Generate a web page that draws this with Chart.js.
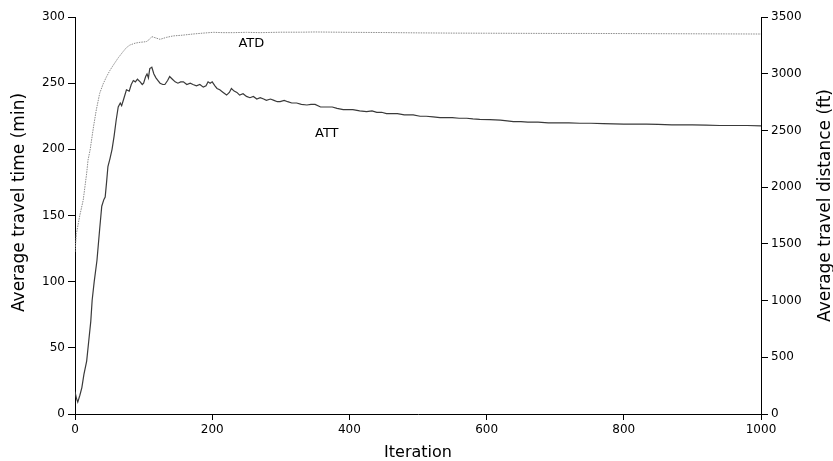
<!DOCTYPE html>
<html>
<head>
<meta charset="utf-8">
<script src="https://cdn.jsdelivr.net/npm/chart.js@4/dist/chart.umd.min.js"></script>
<style>
  html, body { margin: 0; padding: 0; background: #fff; }
  #wrap { width: 833px; height: 461px; position: relative; }
</style>
</head>
<body>
<div id="wrap"><canvas id="c" width="833" height="461"></canvas></div>
<script>
// ---- data ----
const attIter = [0, 2, 4, 7, 10, 13, 17, 20, 23, 25, 28, 32, 36, 39, 42, 44, 46, 48, 51, 54, 57, 60, 63, 66, 68, 71, 75, 79, 82, 85, 88, 91, 95, 98, 100, 103, 105, 107, 109, 112, 115, 118, 121, 124, 128, 131, 135, 138, 142, 146, 150, 154, 158, 163, 168, 172, 177, 182, 187, 191, 194, 197, 200, 204, 207, 211, 216, 221, 225, 228, 232, 236, 240, 245, 250, 255, 260, 265, 270, 275, 279, 285, 290, 295, 299, 305, 310, 316, 323, 330, 338, 344, 350, 358, 367, 375, 382, 391, 398, 405, 415, 425, 433, 440, 447, 454, 462, 470, 480, 493, 503, 512, 522, 532, 542, 550, 560, 571, 580, 590, 605, 620, 630, 639, 650, 660, 675, 690, 705, 720, 736, 752, 770, 785, 800, 815, 833, 850, 870, 885, 900, 920, 940, 960, 980, 1000];
const attVal  = [17, 12, 9, 14, 20, 30, 40, 55, 70, 86, 100, 116, 140, 157, 162, 164, 175, 187, 193, 200, 210, 222, 232, 235, 233, 238, 245, 244, 249, 252, 251, 253, 251, 249, 250, 255, 257, 254, 261, 262, 257, 254, 252, 250, 249, 249, 252, 255, 253, 251, 250, 251, 251, 249, 250, 249, 248, 249, 247, 248, 251, 250, 251, 248, 246, 245, 243, 241, 243, 246, 244, 243, 241, 242, 240, 239, 240, 238, 239, 238, 237, 238, 237, 236, 236, 237, 236, 235, 235, 234, 233.5, 234, 234, 232, 232, 232, 231, 230, 230, 230, 229, 228.5, 229, 228, 228, 227, 227, 227, 226, 226, 225, 225, 224.5, 224, 224, 224, 223.5, 223.5, 223, 222.7, 222.5, 222, 221.5, 221, 221, 220.5, 220.5, 220, 220, 220, 219.7, 219.7, 219.5, 219.3, 219, 219, 219, 218.8, 218.5, 218.5, 218.5, 218.3, 218, 218, 218, 217.8];

const atdIter = [0, 2, 7, 12, 17, 19, 22, 27, 31, 36, 41, 46, 51, 56, 63, 70, 75, 80, 88, 95, 100, 104, 108, 112, 118, 124, 133, 143, 157, 172, 187, 202, 215, 231, 250, 270, 300, 330, 350, 400, 450, 500, 550, 600, 650, 700, 750, 800, 850, 900, 950, 1000];
const atdVal  = [1430, 1590, 1750, 1887, 2122, 2239, 2327, 2533, 2680, 2827, 2910, 2974, 3030, 3077, 3140, 3194, 3230, 3253, 3270, 3277, 3280, 3283, 3300, 3327, 3315, 3303, 3320, 3333, 3340, 3350, 3358, 3365, 3362, 3362, 3365, 3362, 3366, 3366, 3368, 3365, 3363, 3360, 3358, 3357, 3356, 3355, 3355, 3354, 3353, 3352, 3351, 3350];

const xTicks = [0, 200, 400, 600, 800, 1000];
const yLeftTicks = [0, 50, 100, 150, 200, 250, 300];
const yRightTicks = [0, 500, 1000, 1500, 2000, 2500, 3000, 3500];

const seriesLabels = ['ATT', 'ATD'];
const labelAnchors = [
  { text: 'ATT', x: 367, y: 211.6, axis: 'yL' },
  { text: 'ATD', x: 257, y: 279.6, axis: 'yL' }
];
const axisTitles = { x: 'Iteration', yL: 'Average travel time (min)', yR: 'Average travel distance (ft)' };

const FONT = "'DejaVu Sans', sans-serif";

const toPts = (xs, ys) => xs.map((x, i) => ({ x: x, y: ys[i] }));

const textLabels = {
  id: 'textLabels',
  afterDraw(chart) {
    const ctx = chart.ctx;
    const a = chart.chartArea;
    ctx.save();
    ctx.fillStyle = '#000';
    ctx.textAlign = 'center';
    ctx.textBaseline = 'middle';
    ctx.font = "13px " + FONT;
    labelAnchors.forEach(l => {
      const px = chart.scales.x.getPixelForValue(l.x);
      const py = chart.scales[l.axis].getPixelForValue(l.y);
      ctx.fillText(l.text, px, py);
    });
    // axis titles
    ctx.font = "16px " + FONT;
    ctx.fillText(axisTitles.x, (a.left + a.right) / 2, 453);
    ctx.font = "17px " + FONT;
    ctx.save();
    ctx.translate(20, a.top + (a.bottom - a.top) / 2 - 13);
    ctx.rotate(-Math.PI / 2);
    ctx.fillText(axisTitles.yL, 0, 0);
    ctx.restore();
    ctx.save();
    ctx.translate(826, a.top + (a.bottom - a.top) / 2 - 10);
    ctx.rotate(-Math.PI / 2);
    ctx.fillText(axisTitles.yR, 0, 0);
    ctx.restore();
    ctx.restore();
  }
};

const tickOpts = () => ({
  color: '#000',
  font: { family: FONT, size: 12 },
  padding: 3,
  autoSkip: false,
  maxRotation: 0,
  callback: v => String(v)
});

new Chart(document.getElementById('c'), {
  type: 'line',
  data: {
    datasets: [
      {
        label: seriesLabels[0],
        data: toPts(attIter, attVal),
        yAxisID: 'yL',
        borderColor: '#3a3a3a',
        borderWidth: 1.2,
        pointRadius: 0,
        tension: 0,
        fill: false
      },
      {
        label: seriesLabels[1],
        data: toPts(atdIter, atdVal),
        yAxisID: 'yR',
        borderColor: '#8a8a8a',
        borderWidth: 1,
        borderDash: [1.5, 1],
        pointRadius: 0,
        tension: 0,
        fill: false
      }
    ]
  },
  options: {
    responsive: false,
    animation: false,
    events: [],
    layout: { padding: { top: 17, left: 0, right: 0, bottom: 0 } },
    plugins: { legend: { display: false }, tooltip: { enabled: false } },
    scales: {
      x: {
        type: 'linear',
        min: 0, max: 1000,
        afterBuildTicks: s => { s.ticks = xTicks.map(v => ({ value: v })); },
        ticks: tickOpts(),
        grid: { drawOnChartArea: false, drawTicks: true, tickLength: 6, color: '#000', lineWidth: 1 },
        border: { display: true, color: '#000', width: 1 },
        afterFit: s => { s.height = 47; }
      },
      yL: {
        type: 'linear',
        position: 'left',
        min: 0, max: 300,
        afterBuildTicks: s => { s.ticks = yLeftTicks.map(v => ({ value: v })); },
        ticks: tickOpts(),
        grid: { drawOnChartArea: false, drawTicks: true, tickLength: 7, color: '#000', lineWidth: 1 },
        border: { display: true, color: '#000', width: 1 },
        afterFit: s => { s.width = 75; }
      },
      yR: {
        type: 'linear',
        position: 'right',
        min: 0, max: 3500,
        afterBuildTicks: s => { s.ticks = yRightTicks.map(v => ({ value: v })); },
        ticks: tickOpts(),
        grid: { drawOnChartArea: false, drawTicks: true, tickLength: 7, color: '#000', lineWidth: 1 },
        border: { display: true, color: '#000', width: 1 },
        afterFit: s => { s.width = 72; }
      }
    }
  },
  plugins: [textLabels]
});
</script>
</body>
</html>
